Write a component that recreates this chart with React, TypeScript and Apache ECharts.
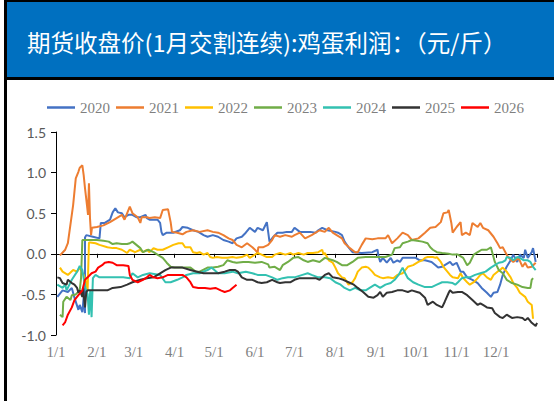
import React, { useEffect, useRef } from "react";
import * as echarts from "echarts";

const TITLE = "期货收盘价(1月交割连续):鸡蛋利润：（元/斤）";
const YEARS = ["2020", "2021", "2022", "2023", "2024", "2025", "2026"];
const COLORS = ["#4472C4", "#ED7D31", "#FFC000", "#70AD47", "#33C1B1", "#333333", "#FF0000"];
const MONTH_STARTS = [0, 31, 59, 90, 120, 151, 181, 212, 243, 273, 304, 334];
const MONTH_LABELS = ["1/1", "2/1", "3/1", "4/1", "5/1", "6/1", "7/1", "8/1", "9/1", "10/1", "11/1", "12/1"];
const Y_TICKS = [-1.0, -0.5, 0.0, 0.5, 1.0, 1.5];

// [day of year, profit]
const S2020 = [[1,-0.53],[5,-0.45],[9,-0.47],[12,-0.42],[14,-0.54],[17,-0.69],[18,-0.63],[20,-0.72],[21,-0.53],[22,-0.73],[22,0.2],[23,0.23],[28,0.21],[33,0.19],[34,0.38],[37,0.38],[41,0.42],[43,0.51],[45,0.56],[47,0.51],[50,0.5],[52,0.45],[55,0.48],[58,0.48],[61,0.45],[64,0.45],[68,0.48],[69,0.44],[71,0.42],[77,0.42],[79,0.38],[80,0.27],[81,0.23],[84,0.26],[89,0.26],[94,0.29],[96,0.33],[100,0.32],[104,0.29],[108,0.27],[112,0.23],[115,0.21],[119,0.23],[123,0.21],[127,0.17],[131,0.15],[134,0.13],[137,0.19],[141,0.21],[144,0.26],[147,0.32],[151,0.27],[153,0.32],[157,0.29],[160,0.39],[161,0.27],[162,0.15],[165,0.21],[168,0.26],[172,0.26],[175,0.27],[179,0.27],[181,0.32],[185,0.27],[193,0.27],[197,0.26],[199,0.29],[202,0.32],[206,0.29],[212,0.27],[214,0.26],[217,0.23],[219,0.15],[222,0.08],[225,0.02],[232,0.01],[240,0.02],[244,0.05],[244.5,-0.01],[246,-0.1],[248,-0.05],[251,-0.11],[254,-0.05],[256,-0.11],[259,-0.08],[261,-0.1],[263,-0.05],[267,-0.05],[273,-0.05],[276,-0.08],[280,-0.08],[285,-0.1],[288,-0.14],[290,-0.17],[293,-0.16],[295,-0.14],[299,-0.1],[301,-0.14],[304,-0.11],[307,-0.22],[309,-0.22],[312,-0.29],[316,-0.32],[320,-0.36],[323,-0.42],[327,-0.48],[330,-0.53],[332,-0.48],[335,-0.47],[337,-0.38],[339,-0.26],[342,-0.16],[345,-0.08],[347,-0.01],[350,-0.1],[352,-0.01],[355,-0.05],[356,0.05],[358,-0.05],[361,0.02],[362,0.07],[364,-0.1]];
const S2021 = [[3,-0.02],[7,0.05],[9,0.13],[13,0.6],[15,0.93],[17,1.01],[18,1.06],[20,1.09],[21,0.97],[22,0.81],[23.5,0.6],[24.3,0.48],[25,0.87],[25.8,0.44],[26.6,0.23],[27.3,0.32],[31,0.33],[36,0.35],[41,0.39],[46,0.44],[50,0.48],[52,0.42],[56,0.58],[58,0.5],[62,0.45],[64,0.38],[65,0.45],[69,0.45],[71,0.44],[75,0.45],[79,0.44],[81,0.54],[85,0.55],[87,0.39],[88,0.27],[92,0.26],[96,0.24],[99,0.27],[104,0.29],[109,0.27],[115,0.29],[119,0.27],[123,0.26],[127,0.23],[131,0.19],[134,0.17],[137,0.11],[141,0.08],[145,0.13],[149,0.08],[151,0.05],[153,0.01],[153.5,0.08],[157,0.08],[161,0.11],[164,0.17],[166,0.23],[170,0.21],[174,0.23],[179,0.21],[181,0.23],[185,0.26],[189,0.19],[194,0.23],[200,0.29],[204,0.27],[207,0.32],[210,0.26],[213,0.23],[217,0.19],[219,0.13],[223,0.07],[227,0.02],[229,0.02],[232,0.11],[235,0.19],[240,0.18],[244,0.19],[250,0.19],[252,0.23],[255,0.13],[259,0.19],[263,0.26],[267,0.23],[270,0.17],[275,0.19],[280,0.26],[284,0.32],[288,0.33],[292,0.39],[294,0.5],[297,0.51],[298,0.54],[300,0.38],[301,0.26],[304,0.33],[307,0.39],[308,0.23],[311,0.26],[314,0.23],[316,0.38],[320,0.33],[322,0.38],[324,0.32],[328,0.29],[332,0.21],[335,0.13],[337,0.07],[339,0.08],[341,0.02],[343,-0.04],[347,-0.1],[351,-0.05],[354,-0.16],[356,-0.11],[358,-0.17],[361,-0.16],[364,-0.11]];
const S2022 = [[3,-0.17],[5,-0.22],[9,-0.26],[13,-0.2],[16,-0.22],[18,-0.17],[21,-0.26],[23,-0.35],[24,-0.45],[25,0.14],[26,0.14],[30,0.13],[33,0.11],[39,0.08],[43,0.07],[46,0.07],[50,0.05],[54,0.01],[56,0.05],[60,0.02],[64,0.05],[66,0.02],[69,0.05],[71,0.02],[74,0.07],[77,0.05],[81,0.05],[85,0.08],[89,0.11],[93,0.13],[96,0.13],[98,0.08],[102,0.08],[104,0.02],[107,0.01],[109,0.02],[112,-0.01],[115,0.01],[117,-0.04],[119,-0.05],[122,-0.04],[126,-0.05],[130,-0.05],[134,-0.04],[137,-0.05],[141,-0.04],[145,-0.01],[147,-0.05],[151,-0.01],[153,0.01],[156,-0.01],[160,-0.04],[164,-0.04],[166,-0.01],[170,0.01],[174,-0.01],[178,0.01],[180,-0.01],[184,0.01],[188,-0.01],[191,0.01],[195,0.01],[199,0.02],[202,0.05],[203,-0.01],[204,0.01],[207,-0.08],[210,-0.11],[212,-0.17],[214,-0.24],[217,-0.29],[219,-0.3],[222,-0.38],[225,-0.35],[227,-0.3],[229,-0.22],[232,-0.17],[235,-0.16],[237,-0.17],[240,-0.22],[242,-0.26],[246,-0.29],[248,-0.3],[252,-0.29],[256,-0.3],[259,-0.26],[263,-0.24],[265,-0.2],[267,-0.16],[271,-0.14],[275,-0.1],[278,-0.08],[280,-0.05],[282,-0.04],[286,-0.04],[288,-0.05],[289,-0.04],[292,-0.1],[294,-0.16],[297,-0.22],[299,-0.26],[301,-0.29],[305,-0.3],[307,-0.24],[309,-0.3],[312,-0.35],[314,-0.38],[317,-0.35],[320,-0.3],[322,-0.26],[324,-0.24],[327,-0.29],[330,-0.32],[332,-0.26],[335,-0.22],[337,-0.2],[339,-0.17],[342,-0.22],[345,-0.29],[347,-0.36],[350,-0.42],[352,-0.48],[356,-0.53],[358,-0.59],[361,-0.63],[362,-0.8]];
const S2023 = [[3,-0.75],[5,-0.78],[5.5,-0.59],[8,-0.53],[11,-0.57],[12,-0.51],[15,-0.5],[18,-0.45],[19,-0.3],[20,0.17],[21,0.17],[26,0.17],[31,0.17],[36,0.16],[40,0.15],[43,0.12],[46,0.13],[50,0.12],[54,0.12],[56,0.13],[58,0.15],[61,0.11],[64,0.07],[66,0.02],[70,0.05],[74,0.02],[77,-0.01],[81,-0.05],[84,-0.11],[87,-0.16],[90,-0.17],[96,-0.17],[102,-0.17],[106,-0.22],[109,-0.22],[115,-0.17],[119,-0.17],[123,-0.16],[127,-0.14],[130,-0.08],[134,-0.1],[137,-0.11],[142,-0.1],[146,-0.1],[151,-0.11],[156,-0.1],[161,-0.13],[162,-0.17],[166,-0.16],[170,-0.2],[172,-0.14],[176,-0.1],[180,-0.05],[184,-0.04],[188,-0.08],[191,-0.1],[195,-0.08],[200,-0.1],[204,-0.05],[210,-0.08],[213,-0.1],[217,-0.14],[221,-0.14],[225,-0.1],[229,-0.05],[235,-0.04],[240,-0.04],[244,-0.04],[250,-0.04],[255,-0.01],[257,0.07],[261,0.08],[263,0.13],[267,0.15],[270,0.17],[274,0.16],[278,0.15],[282,0.13],[284,0.08],[286,0.05],[289,0.02],[293,0.01],[298,0],[301,-0.01],[305,-0.01],[309,-0.05],[312,-0.14],[314,-0.11],[317,-0.01],[320,0.02],[323,0.05],[327,0.05],[330,0.08],[331,0.02],[333,-0.1],[336,-0.2],[339,-0.24],[342,-0.32],[346,-0.36],[350,-0.38],[354,-0.41],[358,-0.42],[360,-0.42],[361,-0.32],[362,-0.3]];
const S2024 = [[1,-0.38],[5,-0.42],[7,-0.38],[8,-0.45],[12,-0.32],[16,-0.22],[18,-0.15],[20,-0.2],[22,-0.4],[24,-0.5],[25,-0.75],[26,-0.45],[27,-0.78],[28,-0.3],[30,-0.26],[33,-0.29],[39,-0.29],[46,-0.29],[51,-0.29],[56,-0.3],[58,-0.24],[62,-0.29],[66,-0.26],[71,-0.24],[79,-0.26],[83,-0.35],[87,-0.35],[92,-0.32],[96,-0.29],[99,-0.26],[104,-0.24],[109,-0.24],[115,-0.2],[118,-0.17],[123,-0.24],[128,-0.24],[134,-0.22],[138,-0.24],[144,-0.22],[149,-0.24],[153,-0.26],[159,-0.26],[164,-0.29],[168,-0.32],[172,-0.3],[176,-0.29],[181,-0.29],[187,-0.26],[191,-0.24],[194,-0.26],[199,-0.29],[204,-0.29],[208,-0.3],[212,-0.35],[216,-0.38],[219,-0.42],[223,-0.45],[227,-0.42],[231,-0.45],[235,-0.45],[238,-0.42],[242,-0.38],[246,-0.42],[250,-0.38],[254,-0.36],[257,-0.32],[260,-0.26],[263,-0.17],[265,-0.24],[267,-0.3],[271,-0.35],[275,-0.38],[280,-0.41],[285,-0.41],[289,-0.38],[293,-0.35],[297,-0.35],[301,-0.36],[303,-0.38],[305,-0.35],[308,-0.3],[311,-0.29],[314,-0.29],[318,-0.26],[322,-0.24],[326,-0.22],[330,-0.17],[333,-0.14],[336,-0.11],[339,-0.1],[341,-0.08],[342,-0.04],[345,-0.05],[347,-0.08],[350,-0.04],[352,-0.05],[355,-0.08],[358,-0.08],[360,-0.1],[362,-0.16],[364,-0.2]];
const S2025 = [[1,-0.29],[3,-0.3],[5,-0.36],[8,-0.38],[9,-0.32],[12,-0.36],[14,-0.38],[16,-0.42],[17,-0.48],[18,-0.45],[20,-0.53],[20.5,-0.42],[22,-0.66],[23,-0.47],[24,-0.45],[30,-0.45],[33,-0.45],[39,-0.45],[43,-0.42],[49,-0.41],[54,-0.38],[58,-0.35],[64,-0.32],[69,-0.3],[74,-0.29],[79,-0.24],[83,-0.2],[87,-0.17],[92,-0.17],[96,-0.17],[102,-0.2],[107,-0.22],[112,-0.24],[117,-0.24],[123,-0.24],[128,-0.22],[132,-0.2],[136,-0.2],[138,-0.22],[141,-0.29],[145,-0.32],[149,-0.32],[153,-0.35],[156,-0.36],[160,-0.35],[164,-0.32],[168,-0.35],[170,-0.36],[174,-0.35],[178,-0.35],[181,-0.32],[185,-0.3],[193,-0.3],[197,-0.3],[200,-0.32],[204,-0.26],[207,-0.24],[210,-0.29],[214,-0.3],[218,-0.32],[222,-0.35],[226,-0.38],[229,-0.42],[233,-0.47],[237,-0.53],[241,-0.54],[244,-0.51],[246,-0.47],[248,-0.53],[251,-0.48],[255,-0.47],[259,-0.45],[263,-0.45],[267,-0.47],[270,-0.45],[274,-0.47],[276,-0.48],[280,-0.54],[282,-0.63],[286,-0.59],[289,-0.63],[293,-0.66],[295,-0.59],[298,-0.48],[299,-0.45],[301,-0.48],[305,-0.47],[308,-0.47],[312,-0.51],[316,-0.57],[320,-0.63],[322,-0.61],[324,-0.63],[327,-0.66],[331,-0.67],[333,-0.73],[337,-0.78],[339,-0.79],[342,-0.75],[346,-0.79],[350,-0.78],[354,-0.79],[356,-0.82],[358,-0.79],[361,-0.85],[364,-0.89],[365,-0.85]];
const S2026 = [[5,-0.88],[7,-0.84],[9,-0.75],[12,-0.66],[14,-0.57],[17,-0.51],[20,-0.45],[22,-0.32],[24,-0.29],[27,-0.24],[30,-0.22],[32,-0.17],[35,-0.14],[37,-0.11],[40,-0.1],[43,-0.11],[46,-0.14],[51,-0.14],[55,-0.15],[56,-0.26],[58,-0.32],[62,-0.35],[66,-0.32],[69,-0.29],[71,-0.26],[74,-0.29],[77,-0.3],[81,-0.29],[85,-0.26],[90,-0.26],[96,-0.26],[99,-0.29],[102,-0.35],[104,-0.41],[108,-0.42],[111,-0.42],[113,-0.42],[117,-0.43],[121,-0.42],[125,-0.45],[128,-0.47],[132,-0.45],[134,-0.42],[137,-0.38]];
const SERIES_DATA = [S2020, S2021, S2022, S2023, S2024, S2025, S2026];

export default function App() {
  const ref = useRef<HTMLDivElement>(null);
  useEffect(() => {
    if (!ref.current) return;
    const chart = echarts.init(ref.current, undefined, { renderer: "svg" });
    const serif = "'Liberation Serif', 'DejaVu Serif', serif";
    chart.setOption({
      animation: false,
      backgroundColor: "#ffffff",
      graphic: [
        { type: "rect", shape: { x: 6, y: 1, width: 548, height: 77 }, style: { fill: "#0070C0" }, z: 10 },
        { type: "rect", shape: { x: 4, y: 0, width: 550, height: 2 }, style: { fill: "#000" }, z: 11 },
        { type: "rect", shape: { x: 4, y: 77, width: 550, height: 3 }, style: { fill: "#000" }, z: 11 },
        { type: "rect", shape: { x: 4, y: 0, width: 3, height: 401 }, style: { fill: "#000" }, z: 11 },
        {
          type: "text", x: 27, y: 42, z: 12,
          style: { text: TITLE, fill: "#ffffff", font: "23.5px 'Noto Sans CJK SC'", verticalAlign: "middle", align: "left" },
        },
      ],
      legend: {
        data: YEARS,
        left: 42,
        top: 95,
        icon: "rect",
        itemWidth: 28,
        itemHeight: 2.5,
        itemGap: 6,
        textStyle: { fontFamily: serif, fontSize: 15, color: "#7f7f7f" },
      },
      grid: { left: 56, right: 17, top: 132, bottom: 66 },
      xAxis: [
        {
          type: "value", min: 0, max: 365,
          axisLine: { onZero: true, lineStyle: { color: "#000", width: 1 } },
          axisTick: { show: true, length: 4, customValues: [...MONTH_STARTS, 365], lineStyle: { color: "#000" } },
          axisLabel: { show: false },
          splitLine: { show: false },
        },
        {
          type: "value", min: 0, max: 365, position: "bottom",
          axisLine: { show: false, onZero: false },
          axisTick: { show: false },
          splitLine: { show: false },
          axisLabel: {
            show: true, margin: 9, customValues: MONTH_STARTS,
            fontFamily: serif, fontSize: 15, color: "#7f7f7f",
            formatter: (v: number) => {
              const i = MONTH_STARTS.indexOf(Math.round(v));
              return i >= 0 ? MONTH_LABELS[i] : "";
            },
          },
        },
      ],
      yAxis: {
        type: "value", min: -1, max: 1.5, interval: 0.5,
        axisLine: { show: true, lineStyle: { color: "#000", width: 1 } },
        axisTick: { show: true, length: 5, lineStyle: { color: "#000" } },
        splitLine: { show: false },
        axisLabel: {
          margin: 10, fontFamily: "Lato, 'Open Sans', sans-serif", fontSize: 14, color: "#595959",
          formatter: (v: number) => (Y_TICKS.some((t) => Math.abs(t - v) < 1e-9) ? v.toFixed(1) : ""),
        },
      },
      series: YEARS.map((y, i) => ({
        name: y,
        type: "line",
        xAxisIndex: 0,
        data: SERIES_DATA[i],
        showSymbol: false,
        symbol: "none",
        color: COLORS[i],
        lineStyle: { width: 2, color: COLORS[i] },
      })),
    });
    return () => chart.dispose();
  }, []);
  return (
    <div
      ref={ref}
      style={{ position: "fixed", left: 0, top: 0, width: 554, height: 401, background: "#fff" }}
    />
  );
}
